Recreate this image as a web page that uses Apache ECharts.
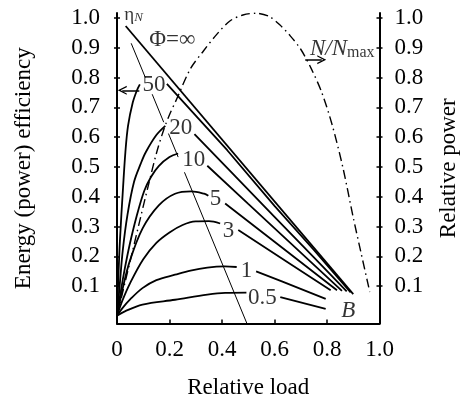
<!DOCTYPE html>
<html><head><meta charset="utf-8">
<script src="https://cdn.jsdelivr.net/npm/echarts@6/dist/echarts.min.js"></script>
<style>html,body{margin:0;padding:0;background:#fff}#c{width:468px;height:404px}</style>
</head><body><div id="c"></div>
<script>
// ---- tick values / labels ----
const xTicks = [0, 0.2, 0.4, 0.6, 0.8, 1.0];
const xTickLabels = ['0', '0.2', '0.4', '0.6', '0.8', '1.0'];
const yTicks = [0.1, 0.2, 0.3, 0.4, 0.5, 0.6, 0.7, 0.8, 0.9, 1.0];
const yTickLabels = ['0.1', '0.2', '0.3', '0.4', '0.5', '0.6', '0.7', '0.8', '0.9', '1.0'];

// ---- efficiency curves (left axis), [relative load, efficiency] ----
const phiInf = [[0.033, 0.973], [0.9, 0.073]];
const phi50Rise = [[0, 0], [0.004, 0.1], [0.011, 0.25], [0.023, 0.43], [0.032, 0.55], [0.042, 0.638], [0.06, 0.716], [0.075, 0.755], [0.087, 0.777]];
const phi50Fall = [[0.19, 0.779], [0.3, 0.672], [0.42, 0.556], [0.6, 0.369], [0.75, 0.221], [0.89, 0.079]];
const phi20Rise = [[0, 0], [0.01, 0.1], [0.022, 0.22], [0.04, 0.34], [0.065, 0.45], [0.09, 0.51], [0.11, 0.55], [0.15, 0.607], [0.184, 0.638]];
const phi20Fall = [[0.295, 0.61], [0.45, 0.469], [0.6, 0.332], [0.75, 0.196], [0.875, 0.082]];
const phi10Rise = [[0, 0], [0.015, 0.085], [0.03, 0.16], [0.048, 0.238], [0.075, 0.335], [0.104, 0.42], [0.13, 0.467], [0.159, 0.503], [0.2, 0.533], [0.233, 0.545]];
const phi10Fall = [[0.344, 0.504], [0.5, 0.376], [0.7, 0.212], [0.857, 0.084]];
const phi5Rise = [[0, 0], [0.02, 0.085], [0.048, 0.182], [0.097, 0.293], [0.159, 0.371], [0.221, 0.41], [0.283, 0.418], [0.332, 0.41], [0.348, 0.403]];
const phi5Fall = [[0.412, 0.377], [0.6, 0.249], [0.838, 0.086]];
const phi3Rise = [[0, 0], [0.02, 0.05], [0.05, 0.11], [0.1, 0.19], [0.15, 0.245], [0.2, 0.28], [0.25, 0.305], [0.3, 0.317], [0.35, 0.318], [0.393, 0.31]];
const phi3Fall = [[0.462, 0.288], [0.65, 0.18], [0.814, 0.086]];
const phi1Rise = [[0, 0], [0.02, 0.025], [0.05, 0.055], [0.097, 0.093], [0.15, 0.12], [0.221, 0.138], [0.28, 0.152], [0.344, 0.162], [0.41, 0.166], [0.456, 0.164]];
const phi1Fall = [[0.53, 0.149], [0.628, 0.116], [0.795, 0.057]];
const phi05Rise = [[0, 0], [0.03, 0.015], [0.097, 0.038], [0.221, 0.054], [0.344, 0.071], [0.412, 0.077], [0.493, 0.078]];
const phi05Fall = [[0.622, 0.063], [0.795, 0.023]];

// ---- eta_N line (broken by labels) ----
const etaNSegments = [
  [[0.054, 0.915], [0.108, 0.80]],
  [[0.134, 0.744], [0.178, 0.65]],
  [[0.196, 0.612], [0.233, 0.533]],
  [[0.257, 0.482], [0.495, -0.026]]
];

// ---- relative power N/Nmax (right axis) ----
const powerCurve = [[0, 0], [0.03, 0.11], [0.06, 0.22], [0.091, 0.335], [0.12, 0.44], [0.15, 0.545], [0.178, 0.625], [0.2, 0.675], [0.227, 0.727], [0.28, 0.83], [0.33, 0.89], [0.38, 0.945], [0.43, 0.99], [0.48, 1.01], [0.53, 1.016], [0.58, 1.005], [0.62, 0.977], [0.66, 0.94], [0.70, 0.895], [0.74, 0.83], [0.78, 0.75], [0.82, 0.64], [0.86, 0.50], [0.90, 0.33], [0.93, 0.21], [0.963, 0.08]];

// ---- annotations ----
const curveLabels = ['50', '20', '10', '5', '3', '1', '0.5', 'Φ=∞', 'B', 'etaN', 'NNmax'];
const curveLabelPos = [[0.141, 0.774], [0.243, 0.632], [0.292, 0.524], [0.375, 0.393], [0.425, 0.286], [0.493, 0.152], [0.554, 0.06], [0.211, 0.927], [0.881, 0.017], [0.063, 1.010], [0.858, 0.896]];
const arrowLines = [[[0.085, 0.757], [0.02, 0.757]], [[0.717, 0.86], [0.78, 0.86]]];

const FONT = "'Liberation Serif', 'Times New Roman', 'DejaVu Serif', serif";
const yMin = -0.0257, yMax = 1.0167;

const solid = (data, smooth) => ({
  type: 'line', data, showSymbol: false, symbol: 'none', smooth: smooth ? 0.35 : false,
  lineStyle: { color: '#000', width: 1.8 }, z: 3, clip: false
});

const series = [];
series.push(solid(phiInf, false));
[[phi50Rise, phi50Fall], [phi20Rise, phi20Fall], [phi10Rise, phi10Fall], [phi5Rise, phi5Fall],
 [phi3Rise, phi3Fall], [phi1Rise, phi1Fall], [phi05Rise, phi05Fall]].forEach(([r, f]) => {
  series.push(solid(r, true));
  series.push(solid(f, false));
});
etaNSegments.forEach(s => series.push({
  type: 'line', data: s, showSymbol: false, symbol: 'none',
  lineStyle: { color: '#000', width: 1 }, z: 2, clip: false
}));
series.push({
  type: 'line', data: powerCurve, yAxisIndex: 1, showSymbol: false, symbol: 'none', smooth: 0.3,
  lineStyle: { color: '#000', width: 1.4, type: [9, 4, 1.5, 4] }, z: 2
});
series.push({
  type: 'lines', coordinateSystem: 'cartesian2d',
  data: arrowLines.map(c => ({ coords: c })),
  symbol: ['none', 'path://M0,10 L5,0 L10,10 L8.4,10 L5,3.2 L1.6,10 Z'], symbolSize: 9,
  lineStyle: { color: '#000', width: 1.5, opacity: 1 }, z: 4
});
series.push({
  type: 'scatter', symbolSize: 0, z: 5,
  data: curveLabels.map((n, i) => ({ name: n, value: curveLabelPos[i] })),
  label: {
    show: true, position: 'inside', color: '#000', fontFamily: FONT, fontSize: 23,
    formatter: p => {
      if (p.name === 'etaN') return '{e|η}{n|N}';
      if (p.name === 'NNmax') return '{i|N/N}{s|max}';
      if (p.name === 'B') return '{i|B}';
      return p.name;
    },
    rich: {
      e: { fontFamily: FONT, fontSize: 19, color: '#000' },
      n: { fontFamily: FONT, fontSize: 13, fontStyle: 'italic', color: '#000', padding: [6, 0, 0, 0] },
      i: { fontFamily: FONT, fontSize: 23, fontStyle: 'italic', color: '#000' },
      s: { fontFamily: FONT, fontSize: 16, color: '#000', padding: [8, 0, 0, 0] }
    }
  }
});

const yLabelFmt = v => { const k = yTicks.findIndex(t => Math.abs(t - v) < 1e-6); return k >= 0 ? yTickLabels[k] : ''; };
const xLabelFmt = v => { const k = xTicks.findIndex(t => Math.abs(t - v) < 1e-6); return k >= 0 ? xTickLabels[k] : ''; };

const baseY = (pos, showLine, inside, withLabels, name, gap, margin) => ({
  type: 'value', position: pos, min: yMin, max: yMax,
  splitLine: { show: false },
  axisLine: { show: showLine, lineStyle: { color: '#000', width: 2 } },
  axisTick: { show: true, inside, length: 3, customValues: yTicks, lineStyle: { color: '#000', width: 1.5 } },
  axisLabel: { show: withLabels, customValues: yTicks, formatter: yLabelFmt, color: '#000', fontFamily: FONT, fontSize: 23, margin },
  name: name || '', nameLocation: 'middle', nameGap: gap || 0, nameRotate: 90,
  nameTextStyle: { color: '#000', fontFamily: FONT, fontSize: 23, align: 'center', verticalAlign: 'middle' }
});

const option = {
  animation: false,
  backgroundColor: '#fff',
  textStyle: { fontFamily: FONT },
  grid: { left: 117, right: 82, top: 13, bottom: 78, containLabel: false },
  xAxis: {
    type: 'value', min: 0, max: 1, interval: 0.2,
    splitLine: { show: false },
    axisLine: { show: true, onZero: false, lineStyle: { color: '#000', width: 2 } },
    axisTick: { show: true, inside: true, length: 4, lineStyle: { color: '#000', width: 1.5 } },
    axisLabel: { formatter: xLabelFmt, color: '#000', fontFamily: FONT, fontSize: 23, margin: 26, verticalAlign: 'middle' },
    name: 'Relative load', nameLocation: 'middle', nameGap: 64,
    nameTextStyle: { color: '#000', fontFamily: FONT, fontSize: 23, align: 'center', verticalAlign: 'middle' }
  },
  yAxis: [
    baseY('left', true, true, true, 'Energy (power) efficiency', 93, 17),
    baseY('right', true, true, true, 'Relative power', 69, 15),
    baseY('left', false, false, false, '', 0, 8),
    baseY('right', false, false, false, '', 0, 8)
  ],
  series
};
const chart = echarts.init(document.getElementById('c'), null, { renderer: 'canvas' });
chart.setOption(option);
</script>
</body></html>
